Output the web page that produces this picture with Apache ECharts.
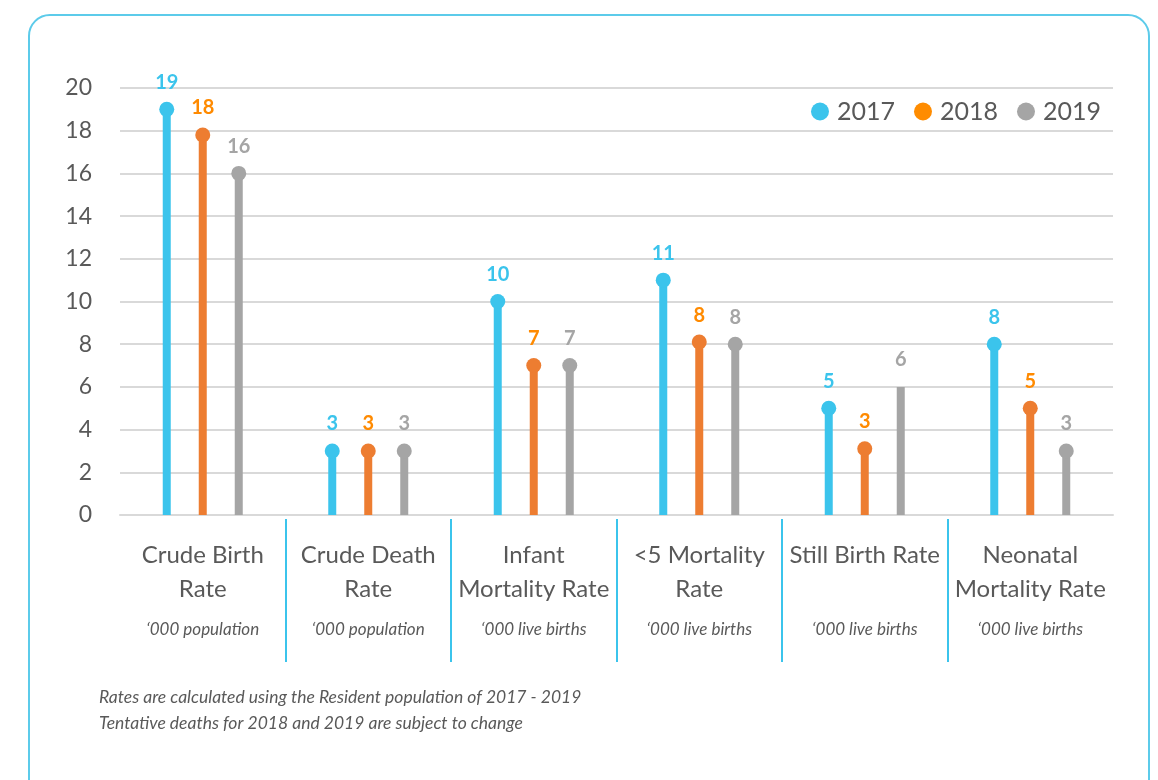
<!DOCTYPE html>
<html>
<head>
<meta charset="utf-8">
<script src="https://cdn.jsdelivr.net/npm/echarts@6/dist/echarts.min.js"></script>
<style>
  html, body { margin: 0; padding: 0; background: #fff; }
  #frame {
    position: absolute; left: 28px; top: 14px; width: 1122px; height: 800px;
    border: 2px solid #5ccbea; border-radius: 22px; box-sizing: border-box;
  }
  #main { position: absolute; left: 0; top: 0; width: 1158px; height: 780px; }
</style>
</head>
<body>
<div id="frame"></div>
<div id="main"></div>
<script>
// categories (name lines) and units
var categories = ["Crude Birth\nRate", "Crude Death\nRate", "Infant\nMortality Rate",
  "<5 Mortality\nRate", "Still Birth Rate\n ", "Neonatal\nMortality Rate"];
var units = ["‘000 population", "‘000 population", "‘000 live births",
  "‘000 live births", "‘000 live births", "‘000 live births"];

// values per year
var years = ["2017", "2018", "2019"];
var data2017 = [19, 3, 10, 11, 5, 8];
var data2018 = [17.8, 3, 7, 8.1, 3.1, 5];
var data2019 = [16, 3, 7, 8, 6, 3];
// no dot drawn on top of these (year index, category index)
var noDot = [[2, 4]];

var yTicks = [0, 2, 4, 6, 8, 10, 12, 14, 16, 18, 20];

var barColors = ["#3bc4ec", "#ed7d31", "#a5a5a5"];
var labelColors = ["#3bc4ec", "#ff8a00", "#a5a5a5"];
var legendColors = ["#3bc4ec", "#ff8c00", "#a5a5a5"];
var allData = [data2017, data2018, data2019];
var FONT = "Lato, 'Open Sans', sans-serif";

var chart = echarts.init(document.getElementById("main"));

var series = years.map(function (y, s) {
  var dots = [];
  allData[s].forEach(function (v, i) {
    var skip = noDot.some(function (p) { return p[0] === s && p[1] === i; });
    if (!skip) dots.push({ coord: [i, v] });
  });
  return {
    name: y,
    type: "bar",
    barWidth: 8,
    barGap: "350%",
    data: allData[s],
    itemStyle: { color: barColors[s] },
    label: {
      show: true,
      position: "top",
      distance: 17,
      color: labelColors[s],
      fontSize: 20,
      fontWeight: "bold",
      fontFamily: FONT,
      formatter: function (p) { return Math.round(p.value); }
    },
    markPoint: {
      symbol: "circle",
      symbolSize: 15,
      itemStyle: { color: barColors[s] },
      label: { show: false },
      data: dots
    }
  };
});

chart.setOption({
  animation: false,
  textStyle: { fontFamily: FONT },
  grid: { left: 120, right: 45, top: 88, bottom: 265 },
  title: {
    text: "Rates are calculated using the Resident population of 2017 - 2019\nTentative deaths for 2018 and 2019 are subject to change",
    left: 94,
    top: 679,
    textStyle: { fontSize: 17.5, fontStyle: "italic", fontWeight: "normal", color: "#595959", lineHeight: 26, fontFamily: FONT }
  },
  legend: {
    right: 52,
    top: 94,
    itemWidth: 18,
    itemHeight: 18,
    itemGap: 19,
    icon: "circle",
    data: years.map(function (y, s) { return { name: y, itemStyle: { color: legendColors[s] } }; }),
    textStyle: { fontSize: 25, color: "#595959", padding: [0, 0, 0, 3] }
  },
  xAxis: {
    type: "category",
    data: categories,
    axisLine: { lineStyle: { color: "#d9d9d9", width: 2 } },
    axisTick: { show: false },
    axisLabel: {
      margin: 23,
      interval: 0,
      formatter: function (v, i) {
        return "{n|" + v.split("\n").join("}\n{n|") + "}\n{u|" + units[i] + "}";
      },
      rich: {
        n: { fontSize: 24, color: "#595959", lineHeight: 34, fontFamily: FONT },
        u: { fontSize: 17, color: "#595959", fontStyle: "italic", lineHeight: 48, fontFamily: FONT }
      }
    }
  },
  yAxis: {
    type: "value",
    min: yTicks[0],
    max: yTicks[yTicks.length - 1],
    interval: 2,
    axisLine: { show: false },
    axisTick: { show: false },
    axisLabel: { fontSize: 23, color: "#595959", margin: 28 },
    splitLine: { lineStyle: { color: "#d9d9d9", width: 2 } }
  },
  series: series
});

// separators between categories, placed from the axis scale
var seps = [];
for (var i = 1; i < categories.length; i++) {
  var a = chart.convertToPixel({ xAxisIndex: 0 }, i - 1);
  var b = chart.convertToPixel({ xAxisIndex: 0 }, i);
  var x = Math.round((a + b) / 2);
  seps.push({
    type: "line",
    shape: { x1: x, y1: 519, x2: x, y2: 662 },
    style: { stroke: "#3bc4ec", lineWidth: 2 }
  });
}
chart.setOption({ graphic: seps });
</script>
</body>
</html>
